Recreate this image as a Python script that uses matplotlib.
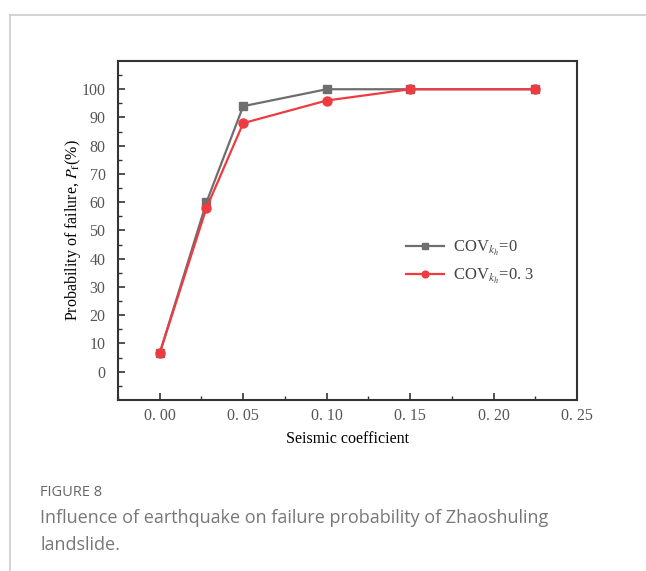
import matplotlib.pyplot as plt
from matplotlib.ticker import MultipleLocator, FuncFormatter
from matplotlib.lines import Line2D

# seismic coefficient vs. probability of failure
kh = [0.0, 0.028, 0.05, 0.10, 0.15, 0.225]
pf_cov0 = [6.6, 60, 94, 100, 100, 100]
pf_cov03 = [6.6, 58, 88, 96, 100, 100]
series_labels = [r'COV$_{k_h}$=0', r'COV$_{k_h}$=0. 3']

plt.rcParams['font.family'] = ['Liberation Serif', 'DejaVu Serif']
plt.rcParams['mathtext.fontset'] = 'stix'

fig = plt.figure(figsize=(6.46, 5.71), dpi=100)

# light frame around the figure panel
fig.add_artist(Line2D([9.5 / 646, 9.5 / 646], [0, 1 - 14.5 / 571],
                      transform=fig.transFigure, color='#cccccc', lw=1.2))
fig.add_artist(Line2D([9.5 / 646, 1], [1 - 14.5 / 571, 1 - 14.5 / 571],
                      transform=fig.transFigure, color='#cccccc', lw=1.2))

ax = fig.add_axes([0.1827, 0.2995, 0.7105, 0.5937])

ax.plot(kh, pf_cov0, color='#6e6e6e', lw=1.6, marker='s', ms=5.5,
        label=series_labels[0], zorder=2)
ax.plot(kh, pf_cov03, color='#ee3b42', lw=1.6, marker='o', ms=6.5,
        label=series_labels[1], zorder=3)

ax.set_xlim(-0.025, 0.25)
ax.set_ylim(-10, 110)
ax.xaxis.set_major_locator(MultipleLocator(0.05))
ax.xaxis.set_minor_locator(MultipleLocator(0.025))
ax.yaxis.set_major_locator(MultipleLocator(10))
ax.yaxis.set_minor_locator(MultipleLocator(5))
ax.xaxis.set_major_formatter(FuncFormatter(lambda v, p: f'{v:.2f}'.replace('.', '. ')))
ax.yaxis.set_major_formatter(FuncFormatter(lambda v, p: '' if v > 100 or v < 0 else f'{v:.0f}'))

ax.tick_params(which='both', direction='in', colors='#333333', labelcolor='#555555',
               labelsize=11.5, top=False, right=False)
ax.tick_params(which='major', length=5, width=1.2)
ax.tick_params(which='minor', length=3, width=1.0)
ax.tick_params(axis='x', pad=6)
ax.tick_params(axis='y', pad=9)
for s in ax.spines.values():
    s.set_color('#333333')
    s.set_linewidth(1.5)

ax.set_xlabel('Seismic coefficient', fontsize=11.5, labelpad=5)
ax.set_ylabel(r'Probability of failure, $P_\mathrm{f}$(%)', fontsize=11.5, labelpad=-1)

ax.legend(loc='center left', bbox_to_anchor=(0.595, 0.405), frameon=False,
          fontsize=12, handlelength=2.3, handletextpad=0.5, labelspacing=0.55,
          markerscale=0.75, labelcolor='#444444')

fig.text(40 / 646, 1 - 493 / 571, 'FIGURE 8', family='Open Sans', fontsize=10.5,
         color='#666666', va='center')
fig.text(40 / 646, 1 - 518 / 571, 'Influence of earthquake on failure probability of Zhaoshuling',
         family='Open Sans', fontsize=13, color='#777777', va='center')
fig.text(40 / 646, 1 - 545 / 571, 'landslide.', family='Open Sans', fontsize=13,
         color='#777777', va='center')

fig.savefig('out.png', dpi=100)
